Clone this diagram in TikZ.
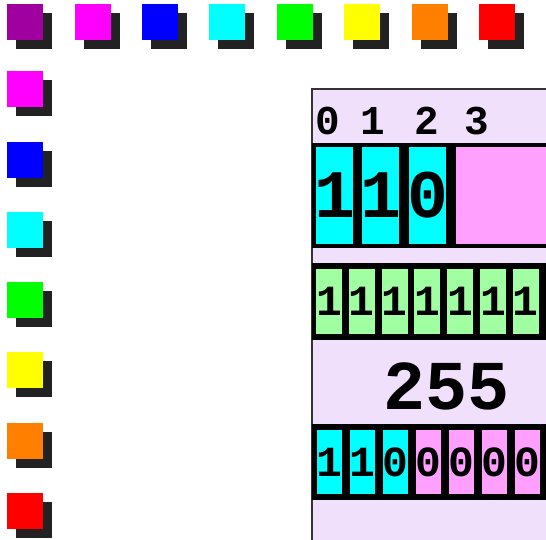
\documentclass[tikz,border=0pt]{standalone}
\usepackage{fontspec}
\newfontfamily\monof{Liberation Mono}
\usetikzlibrary{shadows}
\definecolor{cpurple}{HTML}{A000A0}
\definecolor{cmag}{HTML}{FF00FF}
\definecolor{cblue}{HTML}{0000FF}
\definecolor{ccyan}{HTML}{00FFFF}
\definecolor{cgreen}{HTML}{00FF00}
\definecolor{cyellow}{HTML}{FFFF00}
\definecolor{corange}{HTML}{FF8000}
\definecolor{cred}{HTML}{FF0000}
\definecolor{shadowc}{HTML}{222222}
\definecolor{lav}{HTML}{F0E0FC}
\definecolor{pinkc}{HTML}{FFA0FF}
\definecolor{lgreen}{HTML}{A0FFA0}
\definecolor{bordc}{HTML}{333333}
\newcommand{\zb}[1]{\makebox[0pt]{#1}}
\tikzset{
  sq/.style={minimum size=36pt, inner sep=0pt, anchor=north west, draw=none,
    drop shadow={shadow xshift=9pt, shadow yshift=-9pt, fill=shadowc, opacity=1}},
  cellbox/.style={inner sep=0pt, draw=none, anchor=center},
  hdr/.style={inner sep=0pt, font=\monof\bfseries\fontsize{41}{41}\selectfont},
  bigd/.style={font=\monof\bfseries\fontsize{68}{68}\selectfont},
  numd/.style={font=\monof\bfseries\fontsize{70}{70}\selectfont},
  smd/.style={font=\monof\bfseries\fontsize{43}{43}\selectfont},
}
\begin{document}
\begin{tikzpicture}[x=1pt,y=-1pt]
\useasboundingbox (0,0) rectangle (546,539);
\clip (0,0) rectangle (546,539);
% top row of squares
\foreach \c [count=\i from 0] in {cpurple,cmag,cblue,ccyan,cgreen,cyellow,corange,cred}{
  \node[sq, fill=\c] (t\i) at ({7+67.4*\i},4) {};
}
% left column
\foreach \c [count=\i from 0] in {cmag,cblue,ccyan,cgreen,cyellow,corange,cred}{
  \node[sq, fill=\c] (l\i) at (7,{71+70.3*\i}) {};
}
% panel
\node[draw=bordc, line width=2.5pt, fill=lav, inner sep=0pt, anchor=north west,
  minimum width=300pt, minimum height=500pt] (panel) at (310.5,87.5) {};
% header labels
\node[hdr] (h0) at (327.5,121) {0};
\node[hdr] (h1) at (372.5,121) {1};
\node[hdr] (h2) at (426.5,121) {2};
\node[hdr] (h3) at (476.5,121) {3};
% black bands
\fill (311.5,143) rectangle (560,248);
\fill (311.5,263) rectangle (560,340);
\fill (311.5,424) rectangle (560,500);
% row 1
\foreach \x [count=\i from 0] in {316,362,409}{
  \node[cellbox, fill=ccyan, minimum width=37pt, minimum height=97pt, bigd] (r\i) at ({\x+18.5},195.5) {\zb{\ifnum\i=2 0\else 1\fi}};
}
\node[cellbox, fill=pinkc, anchor=north west, minimum width=110pt, minimum height=97pt] (r3) at (456,147) {};
% green row
\foreach \i in {0,...,6}{
  \node[cellbox, fill=lgreen, minimum width=26pt, minimum height=65pt, smd] (g\i) at ({316+32.8*\i+13},301.5) {\zb{1}};
}
% 255
\node[numd, inner sep=0pt] (num) at (447,386.5) {255};
% bottom row
\foreach \i in {0,...,6}{
  \pgfmathsetmacro{\bx}{316.5+33*\i+12.75}
  \ifnum\i<3
    \node[cellbox, fill=ccyan, minimum width=25.5pt, minimum height=64pt, smd] (b\i) at (\bx,462) {\zb{\ifnum\i=2 0\else 1\fi}};
  \else
    \node[cellbox, fill=pinkc, minimum width=25.5pt, minimum height=64pt, smd] (b\i) at (\bx,462) {\zb{0}};
  \fi
}
\end{tikzpicture}
\end{document}
